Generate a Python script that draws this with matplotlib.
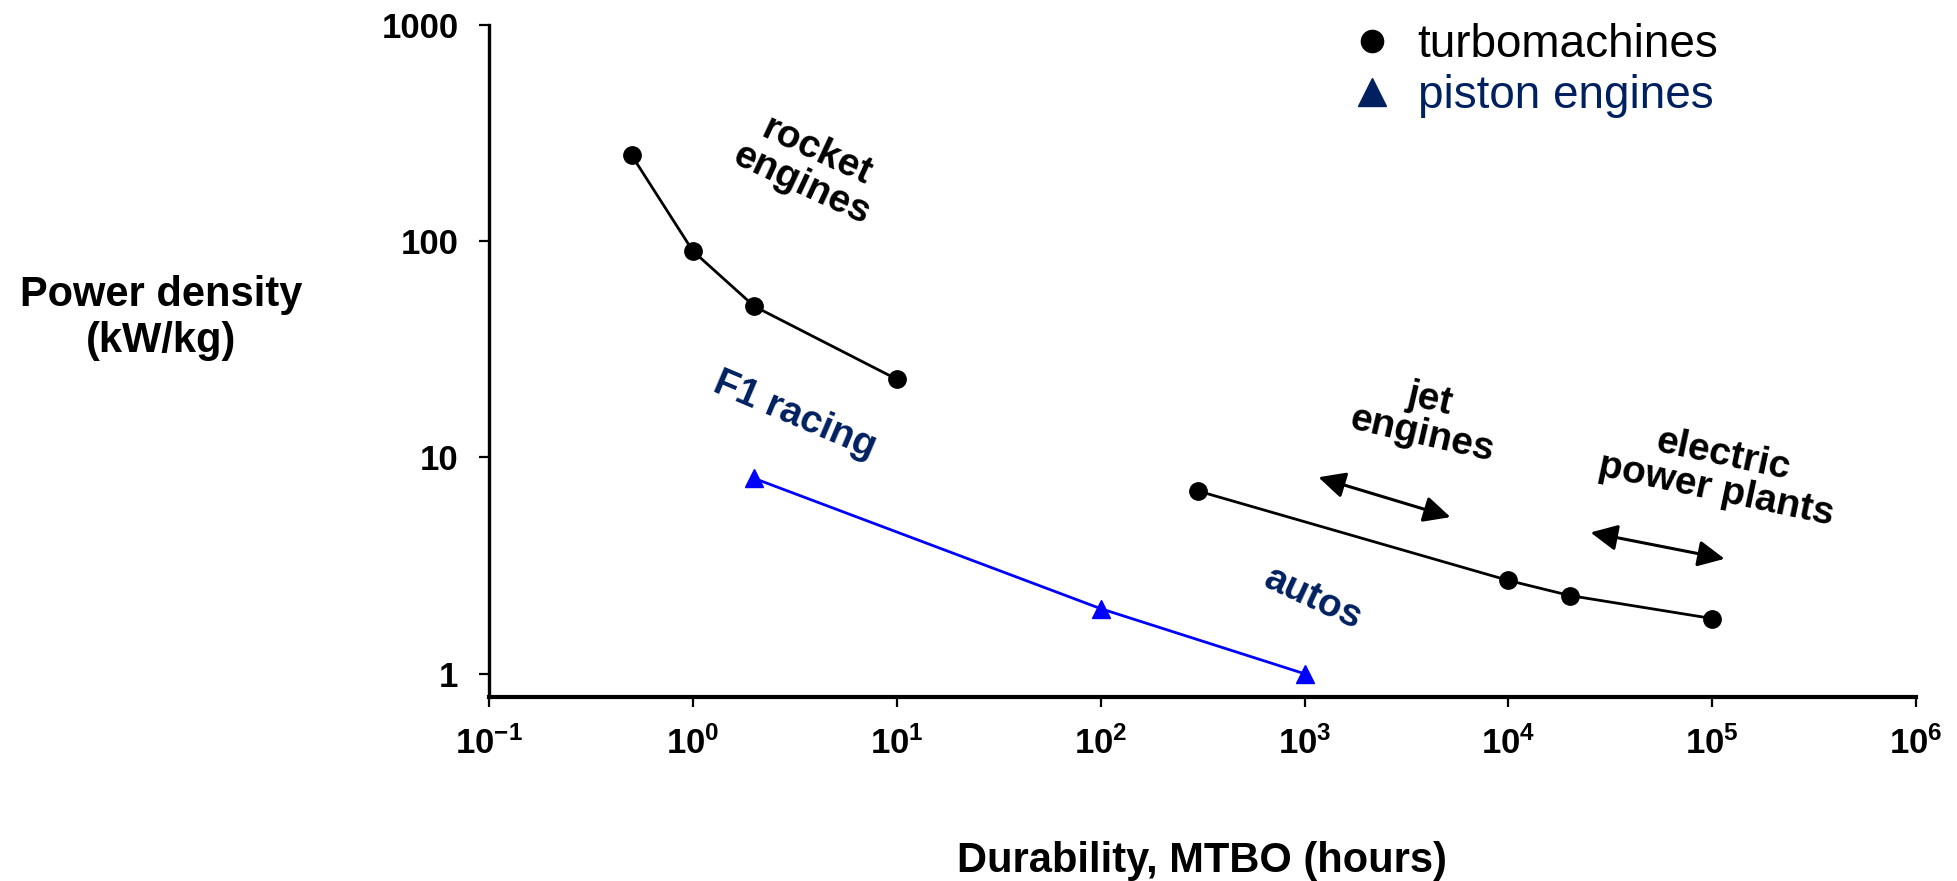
import matplotlib
matplotlib.use("Agg")
import matplotlib.pyplot as plt
from matplotlib.lines import Line2D

# Output
output_file_name = "out.png"

# Durability (hours) vs power density (kW/kg)
rocket_hours = [0.5, 1, 2, 10]
rocket_power = [250, 90, 50, 23]
turbine_hours = [300, 1e4, 2e4, 1e5]
turbine_power = [7, 2.7, 2.3, 1.8]
piston_hours = [2, 100, 1000]
piston_power = [8, 2, 1]

# Range arrows: (start hours, start power, end hours, end power)
jet_arrow = (1170, 8.1, 5200, 5.3)
plant_arrow = (25300, 4.5, 115000, 3.4)

x_ticks = [1e-1, 1e0, 1e1, 1e2, 1e3, 1e4, 1e5, 1e6]
x_tick_labels = [r"$\mathbf{10^{-1}}$", r"$\mathbf{10^{0}}$", r"$\mathbf{10^{1}}$",
                 r"$\mathbf{10^{2}}$", r"$\mathbf{10^{3}}$", r"$\mathbf{10^{4}}$",
                 r"$\mathbf{10^{5}}$", r"$\mathbf{10^{6}}$"]
y_ticks = [1, 10, 100, 1000]
y_tick_labels = ["1", "10", "100", "1000"]

navy = "#002060"
blue = "#0000ff"

plt.rcParams["font.family"] = ["Liberation Sans", "DejaVu Sans"]
plt.rcParams["mathtext.fontset"] = "custom"
plt.rcParams["mathtext.bf"] = "Liberation Sans:bold"
plt.rcParams["mathtext.rm"] = "Liberation Sans:bold"

fig = plt.figure(figsize=(19.57, 8.81), dpi=100)
ax = fig.add_axes([0.2499, 0.2089, 0.7292, 0.7628])

ax.plot(rocket_hours, rocket_power, color="black", lw=2.0,
        marker="o", markersize=12.5, zorder=3)
ax.plot(turbine_hours, turbine_power, color="black", lw=2.0,
        marker="o", markersize=12.5, zorder=3)
ax.plot(piston_hours, piston_power, color=blue, lw=2.0,
        marker="^", markersize=13, zorder=3)

ax.set_xscale("log")
ax.set_yscale("log")
ax.set_xlim(1e-1, 1e6)
ax.set_ylim(0.781, 1000)
ax.set_xticks(x_ticks)
ax.set_xticklabels(x_tick_labels)
ax.set_yticks(y_ticks)
ax.set_yticklabels(y_tick_labels)
ax.minorticks_off()
ax.tick_params(axis="both", direction="out", length=7, width=1.6,
               labelsize=25)
ax.tick_params(axis="y", pad=15)
ax.tick_params(axis="x", pad=14)
for lab in ax.get_yticklabels():
    lab.set_fontweight("bold")

for side in ["top", "right"]:
    ax.spines[side].set_visible(False)
ax.spines["left"].set_linewidth(2.4)
ax.spines["bottom"].set_linewidth(3.0)

# Axis titles
fig.text(161 / 1957, 1 - 318 / 881, "Power density\n(kW/kg)", fontsize=30,
         fontweight="bold", ha="center", va="center", linespacing=1.2)
fig.text(1202 / 1957, 1 - 861 / 881, "Durability, MTBO (hours)", fontsize=30,
         fontweight="bold", ha="center", va="center")

# Range arrows
for x0, y0, x1, y1 in [jet_arrow, plant_arrow]:
    ax.annotate("", xy=(x1, y1), xytext=(x0, y0),
                arrowprops=dict(arrowstyle="<|-|>,head_length=0.45,head_width=0.22",
                                mutation_scale=36, lw=2.2, color="black",
                                shrinkA=0, shrinkB=0))

# Region labels
def label(px, py, text, rot, color="black"):
    fig.text(px / 1957, 1 - py / 881, text, fontsize=28, fontweight="bold",
             color=color, ha="center", va="center", rotation=rot,
             rotation_mode="anchor", linespacing=1.0)

label(809, 168, "rocket\nengines", -25)
label(795, 415, "F1 racing", -23, navy)
label(1313, 599, "autos", -25, navy)
label(1426, 417, "jet\nengines", -13)
label(1720, 473, "electric\npower plants", -12)

# Legend
handles = [
    Line2D([], [], ls="none", marker="o", color="black", markersize=16),
    Line2D([], [], ls="none", marker="^", color=navy, markersize=20),
]
ax.legend(handles, ["turbomachines", "piston engines"],
          labelcolor=["black", navy], fontsize=33, frameon=False,
          loc="upper left", bbox_to_anchor=(1349 / 1957, 1 - 23 / 881),
          bbox_transform=fig.transFigure, borderpad=0, borderaxespad=0,
          handlelength=1.0, handletextpad=0.5, labelspacing=0.15)

fig.savefig(output_file_name, dpi=100)
